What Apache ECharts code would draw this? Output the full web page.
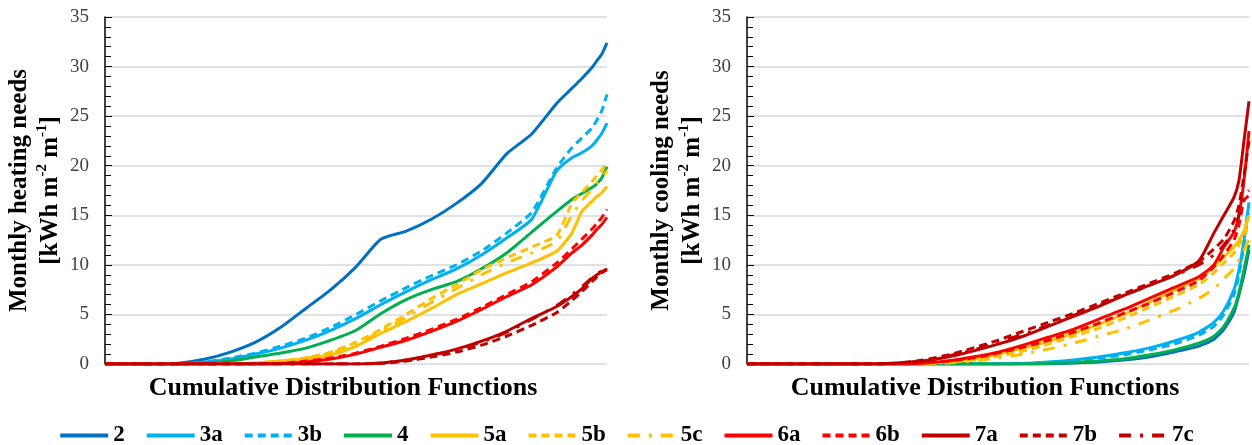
<!DOCTYPE html>
<html>
<head>
<meta charset="utf-8">
<script src="https://cdn.jsdelivr.net/npm/echarts@6/dist/echarts.min.js"></script>
<style>
  html, body { margin: 0; padding: 0; background: #fff; }
  #chart { width: 1252px; height: 445px; }
</style>
</head>
<body>
<div id="chart"></div>
<script>
// cumulative distribution position (%)
const pct = [0, 5, 10, 15, 20, 25, 30, 35, 40, 45, 50, 55, 60, 65, 70, 75, 80, 85, 90, 93, 95, 97, 98, 99, 100]
const yTicks = [0, 5, 10, 15, 20, 25, 30, 35]

// monthly heating needs
const heat2  = [0, 0, 0, 0.1, 0.5, 1.2, 2.2, 3.7, 5.6, 7.5, 9.8, 12.6, 13.4, 14.6, 16.2, 18.2, 21.2, 23.2, 26.3, 27.8, 28.8, 29.9, 30.6, 31.3, 32.4]
const heat3a = [0, 0, 0, 0, 0.2, 0.5, 1.0, 1.6, 2.4, 3.4, 4.6, 6.0, 7.3, 8.5, 9.6, 11.0, 12.7, 14.6, 19.5, 20.8, 21.3, 22.0, 22.6, 23.3, 24.3]
const heat3b = [0, 0, 0, 0, 0.2, 0.6, 1.1, 1.8, 2.6, 3.7, 5.0, 6.4, 7.7, 8.9, 10.0, 11.4, 13.2, 15.3, 19.8, 21.8, 22.8, 23.8, 24.6, 25.6, 27.2]
const heat4  = [0, 0, 0, 0, 0.1, 0.3, 0.7, 1.1, 1.6, 2.4, 3.4, 5.1, 6.5, 7.5, 8.3, 9.6, 11.2, 13.3, 15.4, 16.6, 17.2, 17.8, 18.2, 18.8, 19.9]
const heat5a = [0, 0, 0, 0, 0, 0, 0.1, 0.3, 0.5, 0.9, 1.8, 3.1, 4.3, 5.6, 7.0, 8.1, 9.2, 10.2, 11.4, 13.2, 15.4, 16.4, 16.9, 17.3, 17.9]
const heat5b = [0, 0, 0, 0, 0, 0, 0.1, 0.3, 0.6, 1.2, 2.2, 3.5, 5.0, 6.6, 8.0, 9.5, 10.7, 11.8, 13.0, 16.2, 17.3, 18.4, 19.0, 19.6, 20.3]
const heat5c = [0, 0, 0, 0, 0, 0, 0.1, 0.3, 0.6, 1.1, 2.0, 3.3, 4.7, 6.2, 7.6, 9.0, 10.2, 11.2, 12.4, 15.0, 16.5, 17.6, 18.2, 18.8, 19.5]
const heat6a = [0, 0, 0, 0, 0, 0, 0, 0.05, 0.2, 0.5, 1.0, 1.7, 2.4, 3.3, 4.3, 5.5, 6.8, 8.0, 9.8, 11.2, 12.0, 13.0, 13.6, 14.1, 14.8]
const heat6b = [0, 0, 0, 0, 0, 0, 0, 0.05, 0.3, 0.6, 1.1, 1.8, 2.6, 3.5, 4.5, 5.7, 7.0, 8.3, 10.2, 11.6, 12.6, 13.6, 14.2, 14.8, 15.6]
const heat7a = [0, 0, 0, 0, 0, 0, 0, 0, 0, 0, 0, 0.1, 0.4, 0.9, 1.5, 2.3, 3.3, 4.6, 5.8, 6.8, 7.6, 8.6, 9.0, 9.3, 9.6]
const heat7b = [0, 0, 0, 0, 0, 0, 0, 0, 0, 0, 0, 0.05, 0.3, 0.7, 1.2, 1.9, 2.8, 3.9, 5.2, 6.4, 7.3, 8.3, 8.8, 9.2, 9.5]
const heat7c = [0, 0, 0, 0, 0, 0, 0, 0, 0, 0, 0, 0.1, 0.4, 0.9, 1.4, 2.2, 3.2, 4.5, 5.9, 7.0, 7.8, 8.7, 9.1, 9.4, 9.7]

// monthly cooling needs
const cool2  = [0, 0, 0, 0, 0, 0, 0, 0, 0, 0, 0, 0, 0, 0.1, 0.2, 0.4, 0.7, 1.2, 1.8, 2.5, 3.5, 5.2, 7.0, 9.0, 11.5]
const cool3a = [0, 0, 0, 0, 0, 0, 0, 0, 0, 0, 0, 0.05, 0.2, 0.4, 0.7, 1.1, 1.6, 2.3, 3.2, 4.2, 5.4, 7.5, 9.5, 12.5, 16.3]
const cool3b = [0, 0, 0, 0, 0, 0, 0, 0, 0, 0, 0, 0.05, 0.15, 0.3, 0.6, 0.9, 1.4, 2.0, 2.9, 3.8, 5.0, 7.0, 9.0, 12.0, 15.8]
const cool4  = [0, 0, 0, 0, 0, 0, 0, 0, 0, 0, 0, 0, 0.05, 0.15, 0.3, 0.5, 0.9, 1.4, 2.1, 2.8, 3.8, 5.6, 7.2, 9.5, 12.0]
const cool5a = [0, 0, 0, 0, 0, 0, 0, 0.05, 0.2, 0.5, 1.0, 1.6, 2.3, 3.1, 4.0, 5.0, 6.2, 7.4, 8.6, 9.8, 10.8, 11.8, 12.5, 13.4, 15.0]
const cool5b = [0, 0, 0, 0, 0, 0, 0, 0.05, 0.2, 0.4, 0.8, 1.3, 2.0, 2.8, 3.6, 4.6, 5.7, 6.8, 8.0, 9.2, 10.2, 11.2, 12.0, 13.0, 14.2]
const cool5c = [0, 0, 0, 0, 0, 0, 0, 0, 0.1, 0.3, 0.6, 1.0, 1.5, 2.1, 2.8, 3.5, 4.4, 5.4, 6.6, 7.6, 8.6, 9.6, 10.5, 11.5, 12.5]
const cool6a = [0, 0, 0, 0, 0, 0, 0, 0.1, 0.3, 0.7, 1.2, 1.9, 2.7, 3.5, 4.5, 5.5, 6.6, 7.7, 8.8, 10.0, 11.8, 13.3, 15.0, 18.5, 23.5]
const cool6b = [0, 0, 0, 0, 0, 0, 0, 0.1, 0.3, 0.6, 1.1, 1.7, 2.4, 3.2, 4.1, 5.1, 6.1, 7.2, 8.4, 9.8, 11.0, 12.5, 14.0, 16.5, 17.0]
const cool7a = [0, 0, 0, 0, 0, 0, 0.1, 0.3, 0.7, 1.3, 2.0, 2.8, 3.8, 4.8, 5.8, 6.9, 7.9, 8.9, 10.4, 13.2, 15.0, 16.8, 18.5, 22.5, 26.5]
const cool7b = [0, 0, 0, 0, 0, 0, 0.1, 0.4, 0.9, 1.6, 2.4, 3.3, 4.2, 5.1, 6.1, 7.1, 8.1, 9.1, 10.3, 11.6, 12.6, 14.4, 16.0, 19.0, 22.5]
const cool7c = [0, 0, 0, 0, 0, 0, 0.1, 0.3, 0.8, 1.4, 2.2, 3.0, 3.9, 4.9, 5.9, 6.9, 7.9, 8.9, 10.0, 11.0, 12.0, 13.5, 15.0, 17.0, 17.5]

const names = ['2', '3a', '3b', '4', '5a', '5b', '5c', '6a', '6b', '7a', '7b', '7c']
const colors = ['#0070C0', '#00B0F0', '#00B0F0', '#00B050', '#FFC000', '#FFC000', '#FFC000', '#FF0000', '#FF0000', '#C00000', '#C00000', '#C00000']
const heatSets = [heat2, heat3a, heat3b, heat4, heat5a, heat5b, heat5c, heat6a, heat6b, heat7a, heat7b, heat7c]
const coolSets = [cool2, cool3a, cool3b, cool4, cool5a, cool5b, cool5c, cool6a, cool6b, cool7a, cool7b, cool7c]

const serif = '"Liberation Serif", "Times New Roman", serif'
const dashed = [8, 5]
const dashDot = [12, 9, 3, 9]

function lineType(name) {
  if (name.endsWith('b')) return dashed
  if (name.endsWith('c')) return dashDot
  return 'solid'
}

function makeSeries(sets, idx) {
  return names.map((name, i) => ({
    name,
    type: 'line',
    xAxisIndex: idx,
    yAxisIndex: idx,
    symbol: 'none',
    smooth: 0.2,
    data: pct.map((p, k) => [p, sets[i][k]]),
    lineStyle: { width: 3, color: colors[i], type: lineType(name) },
    itemStyle: { color: colors[i] },
  }))
}

function xAxis(idx) {
  return {
    type: 'value',
    gridIndex: idx,
    min: 0,
    max: 100,
    name: 'Cumulative Distribution Functions',
    nameLocation: 'middle',
    nameGap: 11,
    nameTextStyle: { fontFamily: serif, fontWeight: 'bold', fontSize: 26, color: '#000', padding: [0, 26, 0, 0] },
    axisLine: { show: false },
    axisTick: { show: false },
    axisLabel: { show: false },
    splitLine: { show: false },
  }
}

function yAxis(idx, title) {
  return {
    type: 'value',
    gridIndex: idx,
    min: 0,
    max: 35,
    interval: 5,
    name: title + '\n[kWh m{sup|-2} m{sup|-1}]',
    nameLocation: 'middle',
    nameGap: 36,
    nameTextStyle: {
      fontFamily: serif,
      fontWeight: 'bold',
      fontSize: 25,
      color: '#000',
      lineHeight: 31,
      rich: {
        sup: { fontFamily: serif, fontWeight: 'bold', fontSize: 15, lineHeight: 17, verticalAlign: 'top', color: '#000' },
      },
    },
    axisLine: { show: true, lineStyle: { color: '#000', width: 1.5 } },
    axisTick: { show: true, inside: true, length: 7, lineStyle: { color: '#000' } },
    minorTick: { show: true, splitNumber: 5, length: 6, lineStyle: { color: '#000' } },
    axisLabel: {
      fontFamily: serif, fontSize: 19, color: '#404040', margin: 16,
      formatter: (v) => (yTicks.includes(v) ? String(v) : ''),
    },
    splitLine: { show: true, lineStyle: { color: '#d9d9d9', width: 1.5 } },
  }
}

const chart = echarts.init(document.getElementById('chart'))
chart.setOption({
  animation: false,
  legend: {
    data: names,
    left: 'center',
    top: 419,
    itemWidth: 48,
    itemHeight: 14,
    itemGap: 20,
    itemStyle: { opacity: 0 },
    lineStyle: { width: 4 },
    textStyle: { fontFamily: serif, fontWeight: 'bold', fontSize: 23, color: '#000' },
  },
  grid: [
    { left: 105, right: 645, top: 17, bottom: 81, outerBoundsMode: 'none' },
    { left: 747, right: 3, top: 17, bottom: 81, outerBoundsMode: 'none' },
  ],
  xAxis: [xAxis(0), xAxis(1)],
  yAxis: [yAxis(0, 'Monthly heating needs'), yAxis(1, 'Monthly cooling needs')],
  series: [...makeSeries(heatSets, 0), ...makeSeries(coolSets, 1)],
})

window.addEventListener('resize', () => chart.resize())
</script>
</body>
</html>
